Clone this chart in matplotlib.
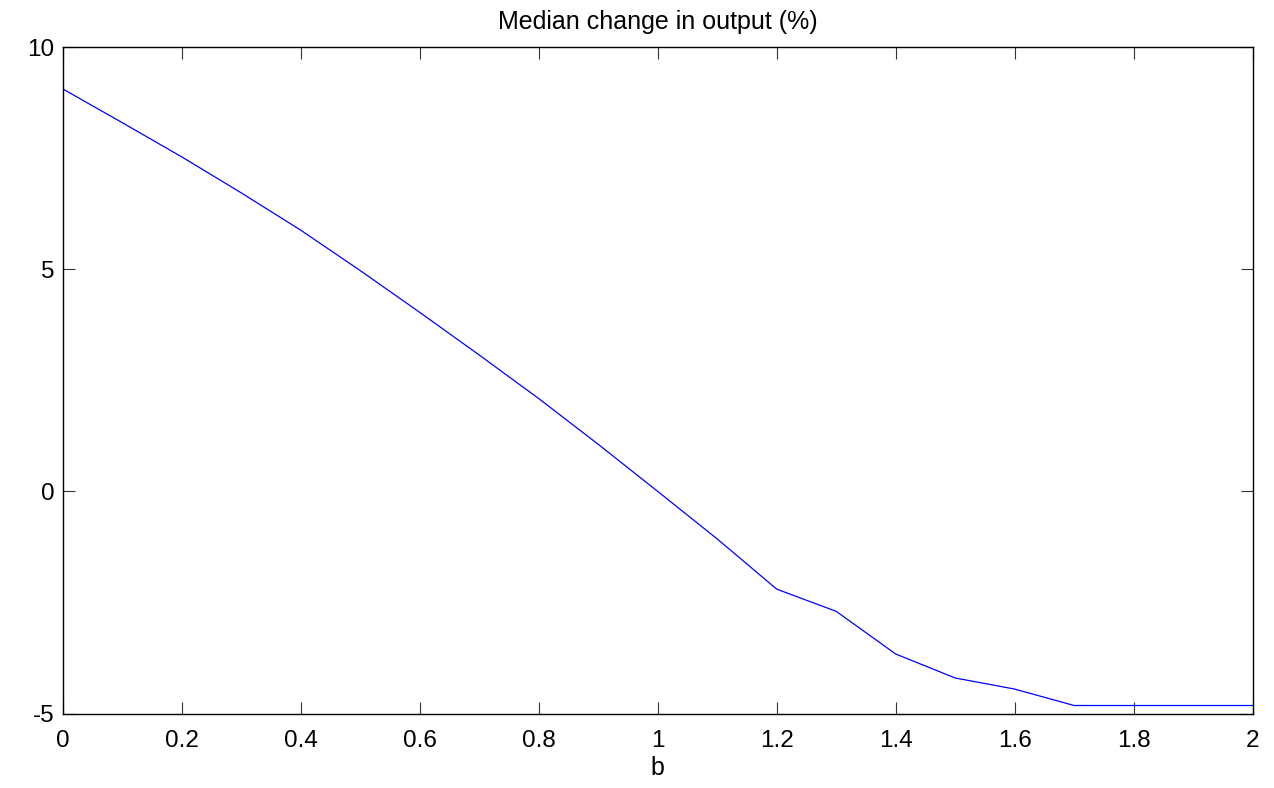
import matplotlib
matplotlib.use("Agg")
import matplotlib.pyplot as plt

b_values = [0.0, 0.1, 0.2, 0.3, 0.4, 0.5, 0.6, 0.7, 0.8, 0.9, 1.0,
            1.1, 1.2, 1.3, 1.4, 1.5, 1.6, 1.7, 1.8, 1.9, 2.0]
median_change = [9.06, 8.30, 7.53, 6.72, 5.88, 4.97, 4.03, 3.07, 2.09, 1.06, 0.0,
                 -1.07, -2.20, -2.70, -3.66, -4.20, -4.45, -4.82, -4.82, -4.82, -4.82]
x_ticks = [0, 0.2, 0.4, 0.6, 0.8, 1, 1.2, 1.4, 1.6, 1.8, 2]
x_tick_labels = ["0", "0.2", "0.4", "0.6", "0.8", "1", "1.2", "1.4", "1.6", "1.8", "2"]
y_ticks = [-5, 0, 5, 10]
y_tick_labels = ["-5", "0", "5", "10"]

plt.rcParams['font.family'] = ['Liberation Sans', 'DejaVu Sans']

fig = plt.figure(figsize=(12.74, 7.88), dpi=100)
ax = fig.add_axes([63/1274, 1 - 713.5/788, (1252.5-63)/1274, (713.5-47.3)/788])
ax.plot(b_values, median_change, color='#0000ff', linewidth=0.9)
ax.set_xlim(0, 2)
ax.set_ylim(-5, 10)
ax.set_xticks(x_ticks)
ax.set_xticklabels(x_tick_labels)
ax.set_yticks(y_ticks)
ax.set_yticklabels(y_tick_labels)
ax.tick_params(direction='in', length=8.5, width=0.8, color='#333333',
               top=True, right=True, labelsize=17.5)
ax.tick_params(axis='x', pad=12)
ax.tick_params(axis='y', pad=6)
for s in ax.spines.values():
    s.set_linewidth(1.0)
    s.set_color('black')
ax.set_title("Median change in output (%)", fontsize=18, pad=13.5)
ax.set_xlabel("b", fontsize=18, labelpad=3)
fig.savefig("out.png", dpi=100)
